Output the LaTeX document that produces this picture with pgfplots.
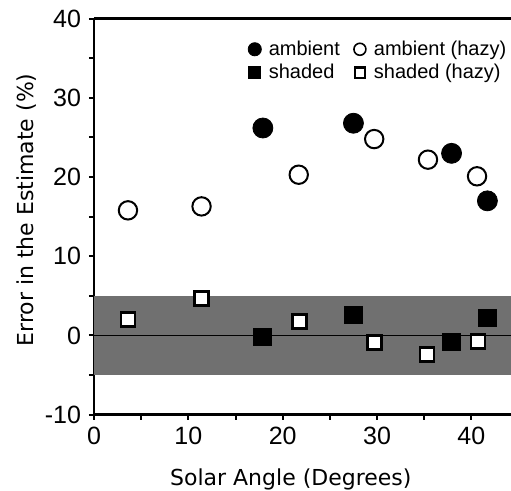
\documentclass[border=0pt]{standalone}
\usepackage{fontspec}
\setmainfont{Liberation Sans}
\newfontfamily\dejavu{DejaVu Sans}
\usepackage{pgfplots}
\pgfplotsset{compat=1.18}
\definecolor{bandgray}{gray}{0.44}
\begin{document}
\begin{tikzpicture}
\begin{axis}[
    name=ax,
    scale only axis,
    width=208.5pt, height=198pt,
    xmin=0, xmax=44.2,
    ymin=-10, ymax=40,
    axis x line=box, axis y line=left,
    y axis line style={-},
    axis line style={line width=1.3pt},
    xtick={0,10,20,30,40}, ytick={-10,0,10,20,30,40},
    minor xtick={5,15,25,35}, minor ytick={-5,5,15,25,35},
    xtick pos=bottom, ytick pos=left,
    tick align=outside,
    major tick length=2.5pt, minor tick length=2.5pt,
    every tick/.style={black, line width=1pt},
    /pgf/number format/assume math mode=true,
    ticklabel style={font=\fontsize{12.5}{14}\selectfont},
    yticklabel style={xshift=-0.5pt},
    xlabel={Solar Angle (Degrees)},
    ylabel={Error in the Estimate (\%)},
    label style={font=\dejavu\fontsize{11}{13}\selectfont},
    xlabel style={at={(axis description cs:0.472,-0.18)}, anchor=base},
    ylabel style={at={(axis description cs:-0.144,0.517)}, anchor=base},
    legend columns=2,
    legend style={draw=none, fill=none, at={(axis cs:16.3,37.8)}, anchor=north west,
        font=\fontsize{10}{12}\selectfont, inner sep=0pt,
        /tikz/every even column/.append style={column sep=5pt},
        row sep=-1pt},
    legend cell align=left,
    legend image code/.code={\draw[#1] plot coordinates {(0.1cm,0cm)};
        \path[draw=none, fill=none] (0.1cm,0cm) -- ++(5pt,0pt);},
]
% tolerance band and zero line
\addplot[draw=none, fill=bandgray, forget plot] coordinates {(0,-5) (44.2,-5) (44.2,5) (0,5)} -- cycle;
\addplot[black, line width=0.8pt, forget plot] coordinates {(0,0) (44.2,0)};

\addplot[only marks, mark=*, mark size=5pt, black,
    legend image post style={mark size=3.3pt}]
    coordinates {(17.9,26.2) (27.5,26.8) (37.9,23.0) (41.7,17.0)};
\addlegendentry{ambient}
\addplot[only marks, mark=o, mark size=4.6pt, black, line width=1pt, mark options={fill=white},
    legend image post style={mark size=3pt, line width=0.8pt}]
    coordinates {(3.6,15.8) (11.4,16.3) (21.7,20.3) (29.7,24.8) (35.4,22.2) (40.6,20.1)};
\addlegendentry{ambient (hazy)}
\addplot[only marks, mark=square*, mark size=4.4pt, black,
    legend image post style={mark size=3pt}]
    coordinates {(17.85,-0.2) (27.5,2.6) (37.9,-0.8) (41.7,2.2)};
\addlegendentry{shaded}
\addplot[only marks, mark=square*, mark size=3.5pt, black, line width=1.4pt, mark options={fill=white},
    legend image post style={mark size=2.6pt, line width=1.1pt}]
    coordinates {(3.6,2.0) (11.4,4.7) (21.8,1.8) (29.7,-0.9) (35.3,-2.4) (40.7,-0.8)};
\addlegendentry{shaded (hazy)}
\end{axis}
\pgfresetboundingbox
\path ([xshift=-47pt, yshift=-38.15pt]ax.south west) rectangle ([yshift=9.35pt]ax.north east);
\end{tikzpicture}
\end{document}
